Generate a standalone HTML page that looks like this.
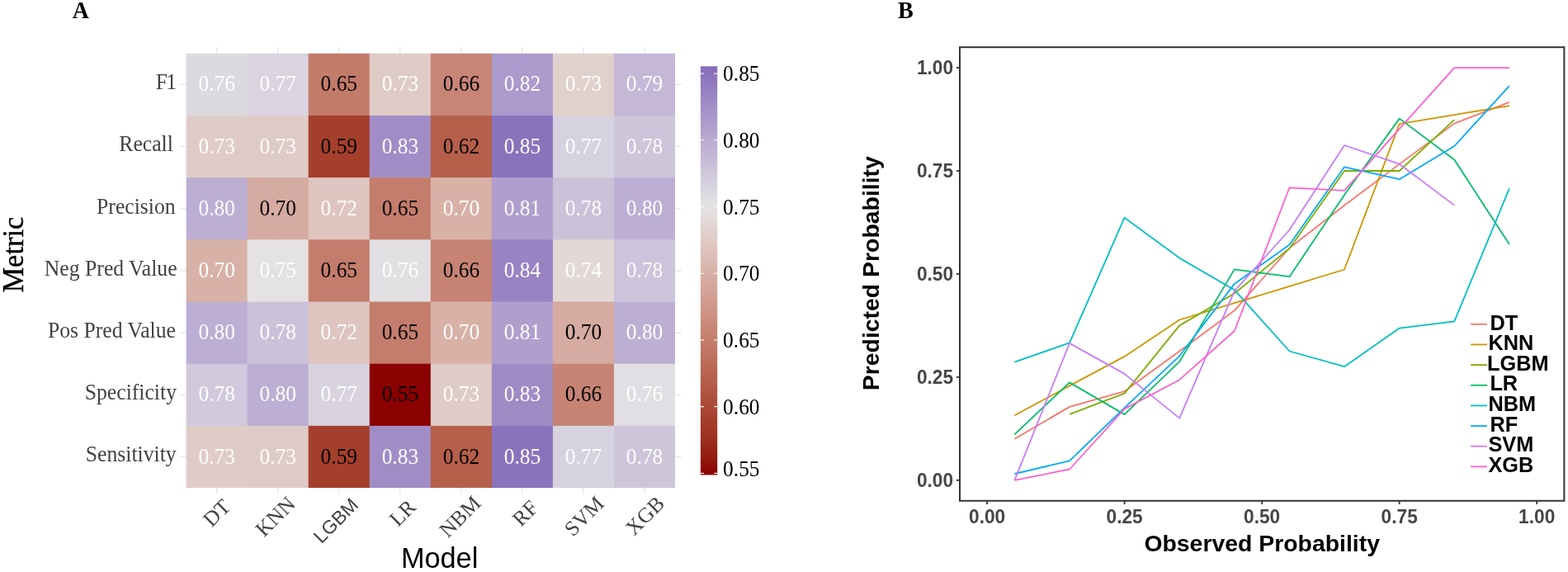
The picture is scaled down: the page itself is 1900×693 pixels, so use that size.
<!DOCTYPE html>
<html lang="en">
<head>
<meta charset="utf-8">
<title>Model performance heatmap and calibration curves</title>
<style>
html,body{margin:0;padding:0;background:#fff;}
body{width:1900px;height:693px;overflow:hidden;}
svg{display:block;}
.se{font-family:"Liberation Serif", "Times New Roman", Times, serif;}
.sa{font-family:"Liberation Sans", Arial, Helvetica, sans-serif;}
.cell{font-size:25.4px;text-anchor:middle;}
.ylab{font-size:25.7px;text-anchor:end;fill:#424242;}
.xlab{font-size:25.7px;text-anchor:end;fill:#424242;}
.cb{font-size:25.4px;fill:#000;}
.bt{font-size:22.7px;font-weight:bold;fill:#464646;}
.lg{font-size:25.3px;font-weight:bold;fill:#000;}
.grid{stroke:#e2e2e2;stroke-width:1.1;fill:none;}
.ln{fill:none;stroke-width:1.8;stroke-linejoin:round;stroke-linecap:butt;}
</style>
</head>
<body>
<svg width="1900" height="693" viewBox="0 0 1900 693">
<rect x="0" y="0" width="1900" height="693" fill="#ffffff"/>
<text class="se" transform="translate(87.8,22.4) scale(1,1.09)" font-size="27.8" font-weight="bold" fill="#000">A</text>
<text class="se" transform="translate(1088.1,21.8) scale(1,1.075)" font-size="28.2" font-weight="bold" fill="#000">B</text>
<g class="grid">
<line x1="262.62" y1="57.3" x2="262.62" y2="598.4"/>
<line x1="336.67" y1="57.3" x2="336.67" y2="598.4"/>
<line x1="410.73" y1="57.3" x2="410.73" y2="598.4"/>
<line x1="484.77" y1="57.3" x2="484.77" y2="598.4"/>
<line x1="558.82" y1="57.3" x2="558.82" y2="598.4"/>
<line x1="632.88" y1="57.3" x2="632.88" y2="598.4"/>
<line x1="706.92" y1="57.3" x2="706.92" y2="598.4"/>
<line x1="780.98" y1="57.3" x2="780.98" y2="598.4"/>
<line x1="218.2" y1="102.34" x2="825.6" y2="102.34"/>
<line x1="218.2" y1="177.53" x2="825.6" y2="177.53"/>
<line x1="218.2" y1="252.72" x2="825.6" y2="252.72"/>
<line x1="218.2" y1="327.91" x2="825.6" y2="327.91"/>
<line x1="218.2" y1="403.11" x2="825.6" y2="403.11"/>
<line x1="218.2" y1="478.29" x2="825.6" y2="478.29"/>
<line x1="218.2" y1="553.49" x2="825.6" y2="553.49"/>
</g>
<g>
<rect x="225.60" y="64.75" width="74.65" height="75.79" fill="#dcd9e1"/>
<rect x="299.65" y="64.75" width="74.65" height="75.79" fill="#d9d4df"/>
<rect x="373.70" y="64.75" width="74.65" height="75.79" fill="#c37b6a"/>
<rect x="447.75" y="64.75" width="74.65" height="75.79" fill="#dfcbc6"/>
<rect x="521.80" y="64.75" width="74.65" height="75.79" fill="#c88576"/>
<rect x="595.85" y="64.75" width="74.65" height="75.79" fill="#ab9acb"/>
<rect x="669.90" y="64.75" width="74.65" height="75.79" fill="#e1d1cd"/>
<rect x="743.95" y="64.75" width="74.05" height="75.79" fill="#c4b8d6"/>
<rect x="225.60" y="139.94" width="74.65" height="75.79" fill="#e0ccc7"/>
<rect x="299.65" y="139.94" width="74.65" height="75.79" fill="#dfcbc6"/>
<rect x="373.70" y="139.94" width="74.65" height="75.79" fill="#a43f2c"/>
<rect x="447.75" y="139.94" width="74.65" height="75.79" fill="#a18dc6"/>
<rect x="521.80" y="139.94" width="74.65" height="75.79" fill="#b55f4b"/>
<rect x="595.85" y="139.94" width="74.65" height="75.79" fill="#8b73bc"/>
<rect x="669.90" y="139.94" width="74.65" height="75.79" fill="#d7d2df"/>
<rect x="743.95" y="139.94" width="74.05" height="75.79" fill="#cdc5da"/>
<rect x="225.60" y="215.13" width="74.65" height="75.79" fill="#bcafd3"/>
<rect x="299.65" y="215.13" width="74.65" height="75.79" fill="#d6aba1"/>
<rect x="373.70" y="215.13" width="74.65" height="75.79" fill="#dec5bf"/>
<rect x="447.75" y="215.13" width="74.65" height="75.79" fill="#c47d6c"/>
<rect x="521.80" y="215.13" width="74.65" height="75.79" fill="#d8b1a7"/>
<rect x="595.85" y="215.13" width="74.65" height="75.79" fill="#b09fcd"/>
<rect x="669.90" y="215.13" width="74.65" height="75.79" fill="#cbc2d9"/>
<rect x="743.95" y="215.13" width="74.05" height="75.79" fill="#bcafd3"/>
<rect x="225.60" y="290.32" width="74.65" height="75.79" fill="#d8b1a7"/>
<rect x="299.65" y="290.32" width="74.65" height="75.79" fill="#e5e3e2"/>
<rect x="373.70" y="290.32" width="74.65" height="75.79" fill="#c47d6c"/>
<rect x="447.75" y="290.32" width="74.65" height="75.79" fill="#e2e0e3"/>
<rect x="521.80" y="290.32" width="74.65" height="75.79" fill="#c78474"/>
<rect x="595.85" y="290.32" width="74.65" height="75.79" fill="#9983c2"/>
<rect x="669.90" y="290.32" width="74.65" height="75.79" fill="#e2d8d6"/>
<rect x="743.95" y="290.32" width="74.05" height="75.79" fill="#ccc4da"/>
<rect x="225.60" y="365.51" width="74.65" height="75.79" fill="#bcafd3"/>
<rect x="299.65" y="365.51" width="74.65" height="75.79" fill="#cbc2d9"/>
<rect x="373.70" y="365.51" width="74.65" height="75.79" fill="#dec5bf"/>
<rect x="447.75" y="365.51" width="74.65" height="75.79" fill="#c47d6c"/>
<rect x="521.80" y="365.51" width="74.65" height="75.79" fill="#d8b1a7"/>
<rect x="595.85" y="365.51" width="74.65" height="75.79" fill="#b09fcd"/>
<rect x="669.90" y="365.51" width="74.65" height="75.79" fill="#d6aba1"/>
<rect x="743.95" y="365.51" width="74.05" height="75.79" fill="#bcafd3"/>
<rect x="225.60" y="440.70" width="74.65" height="75.79" fill="#d1cadc"/>
<rect x="299.65" y="440.70" width="74.65" height="75.79" fill="#bcafd3"/>
<rect x="373.70" y="440.70" width="74.65" height="75.79" fill="#d8d3df"/>
<rect x="447.75" y="440.70" width="74.65" height="75.79" fill="#8b0000"/>
<rect x="521.80" y="440.70" width="74.65" height="75.79" fill="#e0ccc7"/>
<rect x="595.85" y="440.70" width="74.65" height="75.79" fill="#a08bc5"/>
<rect x="669.90" y="440.70" width="74.65" height="75.79" fill="#c78474"/>
<rect x="743.95" y="440.70" width="74.05" height="75.79" fill="#e1dfe3"/>
<rect x="225.60" y="515.89" width="74.65" height="75.19" fill="#e0ccc7"/>
<rect x="299.65" y="515.89" width="74.65" height="75.19" fill="#dfcbc6"/>
<rect x="373.70" y="515.89" width="74.65" height="75.19" fill="#a43f2c"/>
<rect x="447.75" y="515.89" width="74.65" height="75.19" fill="#a18dc6"/>
<rect x="521.80" y="515.89" width="74.65" height="75.19" fill="#b55f4b"/>
<rect x="595.85" y="515.89" width="74.65" height="75.19" fill="#8b73bc"/>
<rect x="669.90" y="515.89" width="74.65" height="75.19" fill="#d7d2df"/>
<rect x="743.95" y="515.89" width="74.05" height="75.19" fill="#cdc5da"/>
</g>
<g class="se cell">
<text transform="translate(262.73,110.44) scale(1,1.07)" fill="#fff">0.76</text>
<text transform="translate(336.77,110.44) scale(1,1.07)" fill="#fff">0.77</text>
<text transform="translate(410.83,110.44) scale(1,1.07)" fill="#000">0.65</text>
<text transform="translate(484.88,110.44) scale(1,1.07)" fill="#fff">0.73</text>
<text transform="translate(558.92,110.44) scale(1,1.07)" fill="#000">0.66</text>
<text transform="translate(632.98,110.44) scale(1,1.07)" fill="#fff">0.82</text>
<text transform="translate(707.02,110.44) scale(1,1.07)" fill="#fff">0.73</text>
<text transform="translate(781.08,110.44) scale(1,1.07)" fill="#fff">0.79</text>
<text transform="translate(262.73,185.63) scale(1,1.07)" fill="#fff">0.73</text>
<text transform="translate(336.77,185.63) scale(1,1.07)" fill="#fff">0.73</text>
<text transform="translate(410.83,185.63) scale(1,1.07)" fill="#000">0.59</text>
<text transform="translate(484.88,185.63) scale(1,1.07)" fill="#fff">0.83</text>
<text transform="translate(558.92,185.63) scale(1,1.07)" fill="#000">0.62</text>
<text transform="translate(632.98,185.63) scale(1,1.07)" fill="#fff">0.85</text>
<text transform="translate(707.02,185.63) scale(1,1.07)" fill="#fff">0.77</text>
<text transform="translate(781.08,185.63) scale(1,1.07)" fill="#fff">0.78</text>
<text transform="translate(262.73,260.82) scale(1,1.07)" fill="#fff">0.80</text>
<text transform="translate(336.77,260.82) scale(1,1.07)" fill="#000">0.70</text>
<text transform="translate(410.83,260.82) scale(1,1.07)" fill="#fff">0.72</text>
<text transform="translate(484.88,260.82) scale(1,1.07)" fill="#000">0.65</text>
<text transform="translate(558.92,260.82) scale(1,1.07)" fill="#fff">0.70</text>
<text transform="translate(632.98,260.82) scale(1,1.07)" fill="#fff">0.81</text>
<text transform="translate(707.02,260.82) scale(1,1.07)" fill="#fff">0.78</text>
<text transform="translate(781.08,260.82) scale(1,1.07)" fill="#fff">0.80</text>
<text transform="translate(262.73,336.01) scale(1,1.07)" fill="#fff">0.70</text>
<text transform="translate(336.77,336.01) scale(1,1.07)" fill="#fff">0.75</text>
<text transform="translate(410.83,336.01) scale(1,1.07)" fill="#000">0.65</text>
<text transform="translate(484.88,336.01) scale(1,1.07)" fill="#fff">0.76</text>
<text transform="translate(558.92,336.01) scale(1,1.07)" fill="#000">0.66</text>
<text transform="translate(632.98,336.01) scale(1,1.07)" fill="#fff">0.84</text>
<text transform="translate(707.02,336.01) scale(1,1.07)" fill="#fff">0.74</text>
<text transform="translate(781.08,336.01) scale(1,1.07)" fill="#fff">0.78</text>
<text transform="translate(262.73,411.21) scale(1,1.07)" fill="#fff">0.80</text>
<text transform="translate(336.77,411.21) scale(1,1.07)" fill="#fff">0.78</text>
<text transform="translate(410.83,411.21) scale(1,1.07)" fill="#fff">0.72</text>
<text transform="translate(484.88,411.21) scale(1,1.07)" fill="#000">0.65</text>
<text transform="translate(558.92,411.21) scale(1,1.07)" fill="#fff">0.70</text>
<text transform="translate(632.98,411.21) scale(1,1.07)" fill="#fff">0.81</text>
<text transform="translate(707.02,411.21) scale(1,1.07)" fill="#000">0.70</text>
<text transform="translate(781.08,411.21) scale(1,1.07)" fill="#fff">0.80</text>
<text transform="translate(262.73,486.39) scale(1,1.07)" fill="#fff">0.78</text>
<text transform="translate(336.77,486.39) scale(1,1.07)" fill="#fff">0.80</text>
<text transform="translate(410.83,486.39) scale(1,1.07)" fill="#fff">0.77</text>
<text transform="translate(484.88,486.39) scale(1,1.07)" fill="#000">0.55</text>
<text transform="translate(558.92,486.39) scale(1,1.07)" fill="#fff">0.73</text>
<text transform="translate(632.98,486.39) scale(1,1.07)" fill="#fff">0.83</text>
<text transform="translate(707.02,486.39) scale(1,1.07)" fill="#000">0.66</text>
<text transform="translate(781.08,486.39) scale(1,1.07)" fill="#fff">0.76</text>
<text transform="translate(262.73,561.59) scale(1,1.07)" fill="#fff">0.73</text>
<text transform="translate(336.77,561.59) scale(1,1.07)" fill="#fff">0.73</text>
<text transform="translate(410.83,561.59) scale(1,1.07)" fill="#000">0.59</text>
<text transform="translate(484.88,561.59) scale(1,1.07)" fill="#fff">0.83</text>
<text transform="translate(558.92,561.59) scale(1,1.07)" fill="#000">0.62</text>
<text transform="translate(632.98,561.59) scale(1,1.07)" fill="#fff">0.85</text>
<text transform="translate(707.02,561.59) scale(1,1.07)" fill="#fff">0.77</text>
<text transform="translate(781.08,561.59) scale(1,1.07)" fill="#fff">0.78</text>
</g>
<g class="se ylab">
<text transform="translate(212.00,108.25) scale(1,1.025)" letter-spacing="-2">F1</text>
<text transform="translate(209.90,183.44) scale(1,1.025)">Recall</text>
<text transform="translate(212.70,258.62) scale(1,1.025)">Precision</text>
<text transform="translate(214.60,333.81) scale(1,1.025)">Neg Pred Value</text>
<text transform="translate(213.00,409.00) scale(1,1.025)">Pos Pred Value</text>
<text transform="translate(214.00,484.19) scale(1,1.025)">Specificity</text>
<text transform="translate(213.70,559.38) scale(1,1.025)">Sensitivity</text>
</g>
<g class="xlab">
<text class="se" transform="translate(272.32,606.80) rotate(-45)" x="0" y="12">DT</text>
<text class="se" transform="translate(350.87,603.60) rotate(-45)" x="0" y="12">KNN</text>
<text class="sa" font-size="23" transform="translate(427.12,604.80) rotate(-45)" x="0" y="12">LGBM</text>
<text class="se" transform="translate(496.97,607.30) rotate(-45)" x="0" y="12">LR</text>
<text class="se" transform="translate(575.62,602.70) rotate(-45)" x="0" y="12">NBM</text>
<text class="se" transform="translate(645.08,608.20) rotate(-45)" x="0" y="12">RF</text>
<text class="se" transform="translate(725.02,603.10) rotate(-45)" x="0" y="12">SVM</text>
<text class="se" transform="translate(798.18,603.10) rotate(-45)" x="0" y="12">XGB</text>
</g>
<text class="sa" x="532.6" y="687.9" font-size="34.3" text-anchor="middle" fill="#000">Model</text>
<text class="se" transform="translate(27.5,308.6) rotate(-90) scale(1,1.05)" font-size="34.5" text-anchor="middle" fill="#000" stroke="#000" stroke-width="0.4">Metric</text>
<defs><linearGradient id="cbg" x1="0" y1="0" x2="0" y2="1"><stop offset="0.0000" stop-color="#866dba"/><stop offset="0.0167" stop-color="#8b73bc"/><stop offset="0.0333" stop-color="#9078be"/><stop offset="0.0500" stop-color="#947ec0"/><stop offset="0.0667" stop-color="#9983c2"/><stop offset="0.0833" stop-color="#9e89c5"/><stop offset="0.1000" stop-color="#a28fc7"/><stop offset="0.1167" stop-color="#a794c9"/><stop offset="0.1333" stop-color="#ac9acb"/><stop offset="0.1500" stop-color="#b0a0cd"/><stop offset="0.1667" stop-color="#b5a6cf"/><stop offset="0.1833" stop-color="#baacd1"/><stop offset="0.2000" stop-color="#beb1d3"/><stop offset="0.2167" stop-color="#c3b7d5"/><stop offset="0.2333" stop-color="#c7bdd7"/><stop offset="0.2500" stop-color="#ccc3da"/><stop offset="0.2667" stop-color="#d0c9dc"/><stop offset="0.2833" stop-color="#d5cfde"/><stop offset="0.3000" stop-color="#d9d5e0"/><stop offset="0.3167" stop-color="#dedbe2"/><stop offset="0.3333" stop-color="#e2e1e4"/><stop offset="0.3500" stop-color="#e5e3e3"/><stop offset="0.3667" stop-color="#e4dedc"/><stop offset="0.3833" stop-color="#e2d8d6"/><stop offset="0.4000" stop-color="#e1d3cf"/><stop offset="0.4167" stop-color="#e0cdc9"/><stop offset="0.4333" stop-color="#dfc8c2"/><stop offset="0.4500" stop-color="#ddc3bc"/><stop offset="0.4667" stop-color="#dcbdb6"/><stop offset="0.4833" stop-color="#dab8b0"/><stop offset="0.5000" stop-color="#d9b3a9"/><stop offset="0.5167" stop-color="#d7ada3"/><stop offset="0.5333" stop-color="#d5a89d"/><stop offset="0.5500" stop-color="#d3a397"/><stop offset="0.5667" stop-color="#d19e91"/><stop offset="0.5833" stop-color="#cf988b"/><stop offset="0.6000" stop-color="#cd9385"/><stop offset="0.6167" stop-color="#cb8e7f"/><stop offset="0.6333" stop-color="#c98979"/><stop offset="0.6500" stop-color="#c78473"/><stop offset="0.6667" stop-color="#c47e6e"/><stop offset="0.6833" stop-color="#c27968"/><stop offset="0.7000" stop-color="#c07462"/><stop offset="0.7167" stop-color="#bd6f5c"/><stop offset="0.7333" stop-color="#bb6957"/><stop offset="0.7500" stop-color="#b86451"/><stop offset="0.7667" stop-color="#b55f4c"/><stop offset="0.7833" stop-color="#b35a46"/><stop offset="0.8000" stop-color="#b05441"/><stop offset="0.8167" stop-color="#ad4f3b"/><stop offset="0.8333" stop-color="#aa4a36"/><stop offset="0.8500" stop-color="#a74431"/><stop offset="0.8667" stop-color="#a43e2b"/><stop offset="0.8833" stop-color="#a13926"/><stop offset="0.9000" stop-color="#9e3321"/><stop offset="0.9167" stop-color="#9b2d1c"/><stop offset="0.9333" stop-color="#982616"/><stop offset="0.9500" stop-color="#941f11"/><stop offset="0.9667" stop-color="#91160b"/><stop offset="0.9833" stop-color="#8e0b05"/><stop offset="1.0000" stop-color="#8b0000"/></linearGradient></defs>
<rect x="848.9" y="80.3" width="20.3" height="495.10" fill="url(#cbg)"/>
<g stroke="#ffffff" stroke-width="1.1">
<line x1="848.9" y1="89.05" x2="853.00" y2="89.05"/><line x1="865.10" y1="89.05" x2="869.20" y2="89.05"/>
<line x1="848.9" y1="169.77" x2="853.00" y2="169.77"/><line x1="865.10" y1="169.77" x2="869.20" y2="169.77"/>
<line x1="848.9" y1="250.50" x2="853.00" y2="250.50"/><line x1="865.10" y1="250.50" x2="869.20" y2="250.50"/>
<line x1="848.9" y1="331.23" x2="853.00" y2="331.23"/><line x1="865.10" y1="331.23" x2="869.20" y2="331.23"/>
<line x1="848.9" y1="411.95" x2="853.00" y2="411.95"/><line x1="865.10" y1="411.95" x2="869.20" y2="411.95"/>
<line x1="848.9" y1="492.68" x2="853.00" y2="492.68"/><line x1="865.10" y1="492.68" x2="869.20" y2="492.68"/>
<line x1="848.9" y1="573.40" x2="853.00" y2="573.40"/><line x1="865.10" y1="573.40" x2="869.20" y2="573.40"/>
</g>
<g class="se cb">
<text transform="translate(876.1,97.95) scale(1,1.08)">0.85</text>
<text transform="translate(876.1,178.97) scale(1,1.08)">0.80</text>
<text transform="translate(876.1,259.70) scale(1,1.08)">0.75</text>
<text transform="translate(876.1,340.43) scale(1,1.08)">0.70</text>
<text transform="translate(876.1,421.15) scale(1,1.08)">0.65</text>
<text transform="translate(876.1,501.88) scale(1,1.08)">0.60</text>
<text transform="translate(876.1,577.00) scale(1,1.08)">0.55</text>
</g>
<rect x="1163.0" y="57.2" width="732.40" height="549.55" fill="#fff" stroke="#333333" stroke-width="2"/>
<g stroke="#333333" stroke-width="1.8">
<line x1="1158.80" y1="581.80" x2="1163.0" y2="581.80"/><line x1="1196.10" y1="606.75" x2="1196.10" y2="610.95"/>
<line x1="1158.80" y1="456.87" x2="1163.0" y2="456.87"/><line x1="1362.62" y1="606.75" x2="1362.62" y2="610.95"/>
<line x1="1158.80" y1="331.95" x2="1163.0" y2="331.95"/><line x1="1529.15" y1="606.75" x2="1529.15" y2="610.95"/>
<line x1="1158.80" y1="207.02" x2="1163.0" y2="207.02"/><line x1="1695.67" y1="606.75" x2="1695.67" y2="610.95"/>
<line x1="1158.80" y1="82.10" x2="1163.0" y2="82.10"/><line x1="1862.20" y1="606.75" x2="1862.20" y2="610.95"/>
</g>
<g class="sa bt">
<text transform="translate(1155.1,589.50) scale(1,1.07)" text-anchor="end">0.00</text><text transform="translate(1196.10,633.7) scale(1,1.07)" text-anchor="middle">0.00</text>
<text transform="translate(1155.1,464.57) scale(1,1.07)" text-anchor="end">0.25</text><text transform="translate(1362.62,633.7) scale(1,1.07)" text-anchor="middle">0.25</text>
<text transform="translate(1155.1,339.65) scale(1,1.07)" text-anchor="end">0.50</text><text transform="translate(1529.15,633.7) scale(1,1.07)" text-anchor="middle">0.50</text>
<text transform="translate(1155.1,214.72) scale(1,1.07)" text-anchor="end">0.75</text><text transform="translate(1695.67,633.7) scale(1,1.07)" text-anchor="middle">0.75</text>
<text transform="translate(1155.1,89.80) scale(1,1.07)" text-anchor="end">1.00</text><text transform="translate(1862.20,633.7) scale(1,1.07)" text-anchor="middle">1.00</text>
</g>
<text class="sa" x="1529.2" y="667.5" font-size="28.4" font-weight="bold" text-anchor="middle" fill="#000">Observed Probability</text>
<text class="sa" transform="translate(1064.7,331.2) rotate(-90)" font-size="28.4" font-weight="bold" text-anchor="middle" fill="#000">Predicted Probability</text>
<g class="ln">
<polyline stroke="#F8766D" points="1229.4,531.8 1296.0,492.9 1362.6,474.1 1429.2,425.5 1495.8,376.3 1562.5,300.5 1629.1,248.8 1695.7,198.9 1762.3,149.6 1828.9,123.8"/>
<polyline stroke="#CD9600" points="1229.4,503.3 1296.0,467.4 1362.6,431.9 1429.2,387.5 1495.8,367.2 1562.5,346.9 1629.1,326.5 1695.7,150.1 1762.3,139.1 1828.9,128.1"/>
<polyline stroke="#7CAE00" points="1296.0,501.8 1362.6,476.6 1429.2,394.4 1495.8,355.5 1562.5,301.0 1629.1,207.0 1695.7,207.0 1762.3,145.1"/>
<polyline stroke="#00BE67" points="1229.4,526.3 1296.0,463.4 1362.6,502.1 1429.2,438.2 1495.8,326.4 1562.5,335.2 1629.1,236.0 1695.7,143.6 1762.3,193.5 1828.9,296.0"/>
<polyline stroke="#00BFC4" points="1229.4,438.7 1296.0,415.4 1362.6,263.7 1429.2,312.6 1495.8,351.2 1562.5,425.5 1629.1,444.2 1695.7,397.6 1762.3,389.4 1828.9,228.4"/>
<polyline stroke="#00A9FF" points="1229.4,574.0 1296.0,558.3 1362.6,494.1 1429.2,431.3 1495.8,343.9 1562.5,296.5 1629.1,202.3 1695.7,217.2 1762.3,177.0 1828.9,104.1"/>
<polyline stroke="#C77CFF" points="1229.4,581.8 1296.0,415.9 1362.6,452.9 1429.2,506.6 1495.8,352.6 1562.5,278.5 1629.1,176.0 1695.7,198.7 1762.3,248.6"/>
<polyline stroke="#FF61CC" points="1229.4,581.8 1296.0,568.5 1362.6,495.4 1429.2,460.2 1495.8,401.0 1562.5,227.3 1629.1,230.8 1695.7,156.1 1762.3,82.1 1828.9,82.1"/>
</g>
<g class="ln">
<line x1="1782.2" y1="392.80" x2="1802" y2="392.80" stroke="#F8766D"/>
<line x1="1782.2" y1="417.45" x2="1802" y2="417.45" stroke="#CD9600"/>
<line x1="1782.2" y1="442.10" x2="1802" y2="442.10" stroke="#7CAE00"/>
<line x1="1782.2" y1="466.75" x2="1802" y2="466.75" stroke="#00BE67"/>
<line x1="1782.2" y1="491.40" x2="1802" y2="491.40" stroke="#00BFC4"/>
<line x1="1782.2" y1="516.05" x2="1802" y2="516.05" stroke="#00A9FF"/>
<line x1="1782.2" y1="540.70" x2="1802" y2="540.70" stroke="#C77CFF"/>
<line x1="1782.2" y1="565.35" x2="1802" y2="565.35" stroke="#FF61CC"/>
</g>
<g class="sa lg">
<text transform="translate(1805.4,399.75) scale(1,1.03)">DT</text>
<text transform="translate(1803.5,424.30) scale(1,1.03)">KNN</text>
<text transform="translate(1802.1,448.85) scale(1,1.03)">LGBM</text>
<text transform="translate(1805.4,473.40) scale(1,1.03)">LR</text>
<text transform="translate(1803.5,497.95) scale(1,1.03)">NBM</text>
<text transform="translate(1805.4,522.50) scale(1,1.03)">RF</text>
<text transform="translate(1803.5,547.05) scale(1,1.03)">SVM</text>
<text transform="translate(1803.5,571.60) scale(1,1.03)">XGB</text>
</g>
</svg>
</body>
</html>
